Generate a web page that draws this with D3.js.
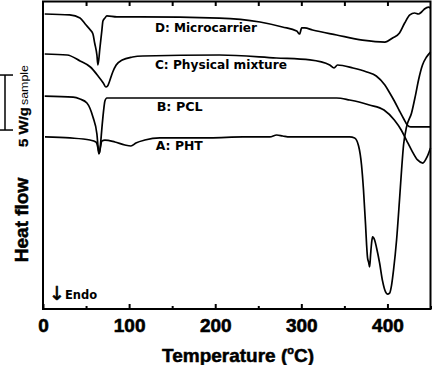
<!DOCTYPE html>
<html><head><meta charset="utf-8">
<script src="https://cdn.jsdelivr.net/npm/d3@7"></script>
<style>body{margin:0;background:#fff}svg{display:block}</style>
</head><body>
<svg id="chart" width="433" height="365"></svg>
<script>
// ---- data (temperature in °C, heat flow in W/g with arbitrary vertical offsets) ----
const tempD = [2,31,43,49,55,58,60,62.6,63.8,66.1,68.4,69.6,71.9,74.2,85.8,113,205,252,278,294.6,298,300.4,303.9,313,341,371,397,406,414,420,426,431.5,436,439.6,443,447.7,450];
const flowD = [26.82,26.73,26.45,25.91,25.36,25.0,24.18,23.09,22.18,23.73,25.36,26.18,26.45,26.64,26.55,26.55,26.45,26.09,25.64,25.27,25.0,25.55,25.55,25.36,24.91,24.45,24.27,24.64,25.09,26.0,26.73,26.91,26.82,27.0,27.27,27.45,27.36];

const tempC = [2,28,43,55,64,70,73,75,77,81,85,92,104,116,205,271,310,333,338,342,360,376,387,397,402,408,414,419,423,427,450];
const flowC = [23.18,23.09,22.55,22.0,21.18,20.55,20.18,20.27,20.64,21.55,22.18,22.64,22.91,23.0,23.09,22.82,22.64,22.18,21.91,22.18,21.91,21.55,21.18,20.36,19.73,18.91,18.0,17.27,16.73,16.55,16.55];

const tempB = [2,35,43,51,58,62.6,64.4,65.5,66.7,68.4,70.7,71.9,74.2,113,263,341,356,367,379,396,408,416,422,428,435,441,446,450];
const flowB = [19.36,19.27,19.09,18.73,17.45,15.91,14.45,14.18,14.91,16.45,18.27,18.91,19.18,19.18,19.18,19.18,19.0,18.82,18.55,18.09,17.18,16.27,15.36,14.45,13.55,13.27,13.82,14.64];

const tempA = [2.3,31.3,54.5,61.5,63.8,65.0,66.1,68.4,71.9,83.5,95.1,102.1,107.9,118.3,135.7,193.7,232,263.3,271.4,278.4,286.5,356.1,361.9,366.5,369.9,372.2,374.6,375.8,376.9,378.1,379.3,380.4,381.6,382.7,385.1,387.4,390.9,394.3,397.8,400.1,402.5,404.8,407.1,410.6,414.0,416.4,418.7,422.2,428.0,432.6,436.1,440.7,445.4,450];
const flowA = [15.64,15.55,15.36,15.18,14.64,14.09,14.45,15.27,15.36,15.18,14.91,14.82,15.09,15.36,15.55,15.55,15.64,15.64,15.82,15.73,15.64,15.64,15.55,14.82,13.09,10.82,7.64,5.82,4.64,4.27,3.82,4.91,6.0,6.55,6.27,5.55,4.18,2.55,1.55,1.36,1.45,2.18,3.55,6.27,9.91,12.64,14.91,16.55,17.82,19.45,20.82,22.18,22.91,23.36];

const seriesLabels = ["D: Microcarrier","C: Physical mixture","B: PCL","A: PHT"];
const labelTemps = [130,130,132,131];
const labelFlows = [25.18,21.82,18.0,14.45];
const labelLengths = [102,132,46,47];

const majorTicks = [0,100,200,300,400];
const minorTicks = [50,150,250,350,450];
const topTicks = [50,100,150,200,250,300,350,400];
const scaleBarFlow = [16.27,21.27]; // 5 W/g
// ------------------------------------------------------------

const svg = d3.select("#chart");
const x = d3.scaleLinear().domain([0,450]).range([43,430.5]);
const y = d3.scaleLinear().domain([0,28]).range([309,1]);

const line = d3.line().x(d=>x(d[0])).y(d=>y(d[1])).curve(d3.curveMonotoneX);
const series = [[tempD,flowD],[tempC,flowC],[tempB,flowB],[tempA,flowA]];
svg.append("g").selectAll("path").data(series).join("path")
  .attr("d", s => line(d3.zip(s[0], s[1])))
  .attr("fill","none").attr("stroke","#000").attr("stroke-width",1.7)
  .attr("stroke-linejoin","round");

// frame
svg.append("rect").attr("x",x(0)).attr("y",y(28)+0.5)
  .attr("width",x(450)-x(0)).attr("height",y(0)-y(28)-0.5)
  .attr("fill","none").attr("stroke","#000").attr("stroke-width",2);

// bottom axis major
const gx = svg.append("g").attr("transform",`translate(0,${y(0)})`)
  .call(d3.axisBottom(x).tickValues(majorTicks).tickSizeInner(-5).tickSizeOuter(0).tickPadding(10).tickFormat(d3.format("d")));
gx.select(".domain").remove();
gx.selectAll("line").attr("stroke-width",2);
gx.selectAll("text").attr("font-family","Liberation Sans, Arial, sans-serif").attr("font-weight","bold")
  .attr("font-size",19).attr("fill","#000").attr("stroke","#000").attr("stroke-width",0.6);

const gxm = svg.append("g").attr("transform",`translate(0,${y(0)})`)
  .call(d3.axisBottom(x).tickValues(minorTicks).tickSizeInner(-3).tickSizeOuter(0).tickFormat(""));
gxm.select(".domain").remove();
gxm.selectAll("line").attr("stroke-width",2);

const gt = svg.append("g").attr("transform",`translate(0,${y(28)})`)
  .call(d3.axisTop(x).tickValues(topTicks).tickSizeInner(-5).tickSizeOuter(0).tickFormat(""));
gt.select(".domain").remove();
gt.selectAll("line").attr("stroke-width",2);

// x title
const xt = svg.append("text").attr("x",162).attr("y",362)
  .attr("font-family","Liberation Sans, Arial, sans-serif").attr("font-weight","bold").attr("font-size",19)
  .attr("stroke","#000").attr("stroke-width",0.5);
xt.append("tspan").text("Temperature (");
xt.append("tspan").attr("font-size",11).attr("dy",-8).text("o");
xt.append("tspan").attr("dy",8).text("C)");

// y title
svg.append("text").attr("transform","translate(28,220) rotate(-90)")
  .attr("text-anchor","middle")
  .attr("font-family","Liberation Sans, Arial, sans-serif").attr("font-weight","bold").attr("font-size",19)
  .attr("stroke","#000").attr("stroke-width",0.5)
  .text("Heat flow");

// series labels
svg.append("g").selectAll("text").data(seriesLabels).join("text")
  .attr("x",(d,i)=>x(labelTemps[i])).attr("y",(d,i)=>y(labelFlows[i]))
  .attr("font-family","DejaVu Sans, sans-serif").attr("font-weight","bold").attr("font-size",12)
  .attr("textLength",(d,i)=>labelLengths[i]).attr("lengthAdjust","spacingAndGlyphs")
  .text(d=>d);

// scale bar
const sb = svg.append("g").attr("stroke","#000").attr("stroke-width",1.5);
sb.append("line").attr("x1",5).attr("x2",5).attr("y1",y(scaleBarFlow[1])).attr("y2",y(scaleBarFlow[0]));
sb.append("line").attr("x1",-3).attr("x2",13).attr("y1",y(scaleBarFlow[1])).attr("y2",y(scaleBarFlow[1]));
sb.append("line").attr("x1",-3).attr("x2",13).attr("y1",y(scaleBarFlow[0])).attr("y2",y(scaleBarFlow[0]));
svg.append("text").attr("transform","translate(28,147) rotate(-90)")
  .attr("font-family","Liberation Sans, Arial, sans-serif").attr("font-weight","bold").attr("font-size",12.5)
  .attr("stroke","#000").attr("stroke-width",0.3)
  .attr("textLength",40).attr("lengthAdjust","spacingAndGlyphs").text("5 W/g");
svg.append("text").attr("transform","translate(28,105) rotate(-90)")
  .attr("font-family","Liberation Sans, Arial, sans-serif").attr("font-size",10)
  .attr("textLength",40).attr("lengthAdjust","spacingAndGlyphs").text("sample");

// Endo
const en = svg.append("text").attr("x",49).attr("y",300)
  .attr("font-family","DejaVu Sans, sans-serif");
en.append("tspan").attr("font-size",19).attr("stroke","#000").attr("stroke-width",0.6).text("↓");
en.append("tspan").attr("font-size",11.5).attr("font-weight","bold").attr("dx",0).attr("dy",-1).text("Endo");
</script>
</body></html>
